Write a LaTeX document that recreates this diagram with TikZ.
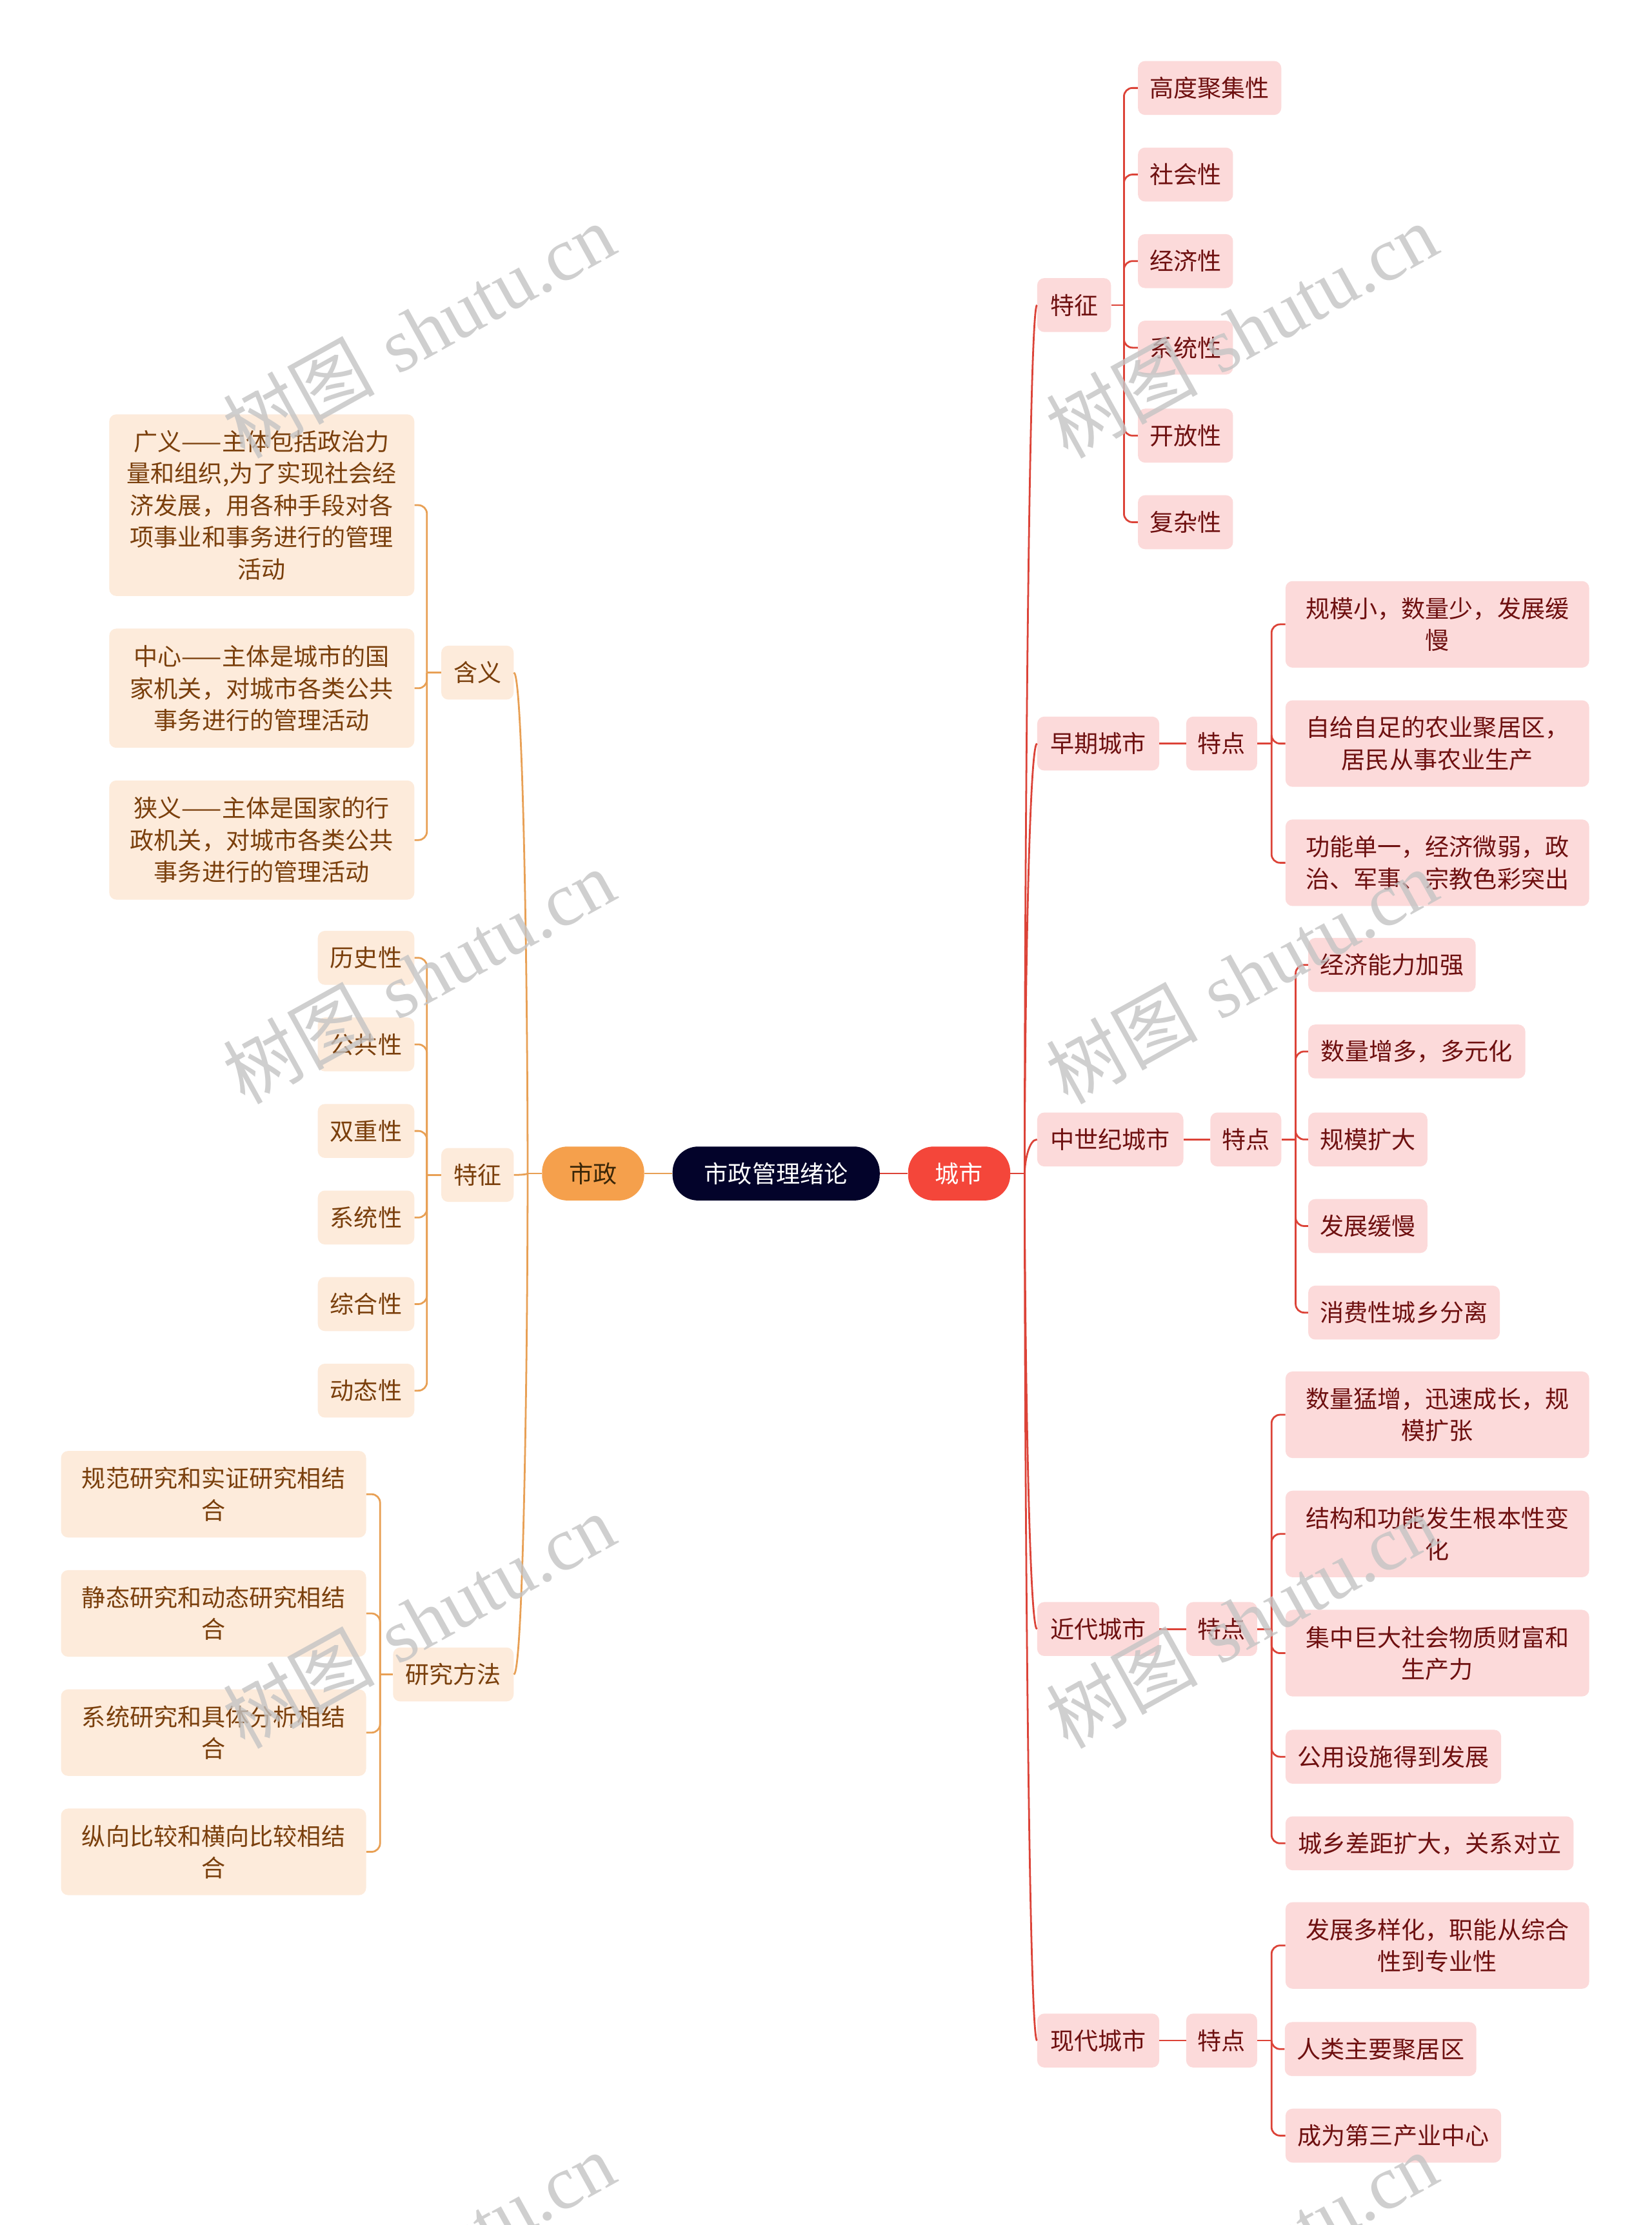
\documentclass[tikz,border=0pt]{standalone}
\usepackage{fontspec}
\newfontfamily\cjk{Noto Sans CJK SC}
\newfontfamily\wmserif{Liberation Serif}
\usetikzlibrary{calc}

\definecolor{rfill}{HTML}{FCDADA}
\definecolor{rtext}{HTML}{6E1010}
\definecolor{rline}{HTML}{DC4338}
\definecolor{lfill}{HTML}{FDEBDB}
\definecolor{ltext}{HTML}{7A3F0C}
\definecolor{lline}{HTML}{E8A055}
\definecolor{rootfill}{HTML}{03032A}
\definecolor{cityfill}{HTML}{F4463A}
\definecolor{szfill}{HTML}{F5A04C}
\definecolor{sztext}{HTML}{3A2608}
\definecolor{wm}{HTML}{C4C4C4}

\begin{document}
\begin{tikzpicture}[x=0.05cm,y=-0.05cm,
 every node/.style={font=\cjk\fontsize{24pt}{32pt}\selectfont, inner sep=0pt, align=center},
 sz/.style 2 args={minimum width=#1*0.05cm, minimum height=#2*0.05cm},
 rbox/.style={fill=rfill, text=rtext, rounded corners=0.25cm},
 lbox/.style={fill=lfill, text=ltext, rounded corners=0.25cm},
 pill/.style={rounded corners=0.9cm},
 rl/.style={draw=rline, line width=1.8pt, rounded corners=0.3cm},
 ll/.style={draw=lline, line width=1.8pt, rounded corners=0.3cm},
 wmk/.style={text=wm, opacity=0.8, rotate=29, font=\fontsize{76pt}{76pt}\selectfont},
]
\useasboundingbox (0,0) rectangle (1164,1568);
\clip (0,0) rectangle (1164,1568);
\fill[white] (0,0) rectangle (1164,1568);

% ---------- root level ----------
\node[pill, fill=rootfill, text=white, sz={146}{38}] (root) at (547,827) {市政管理绪论};
\node[pill, fill=cityfill, text=white, sz={72}{38}] (city) at (676,827) {城市};
\node[pill, fill=szfill, text=sztext, sz={72}{38}] (shz) at (418,827) {市政};

% ---------- right side ----------
\node[rbox, sz={52}{38}] (rtz) at (757,215) {特征};
\node[rbox, sz={101}{38}] (r1) at (852.5,62) {高度聚集性};
\node[rbox, sz={67}{38}] (r2) at (835.5,123) {社会性};
\node[rbox, sz={67}{38}] (r3) at (835.5,184) {经济性};
\node[rbox, sz={67}{38}] (r4) at (835.5,245) {系统性};
\node[rbox, sz={67}{38}] (r5) at (835.5,307) {开放性};
\node[rbox, sz={67}{38}] (r6) at (835.5,368) {复杂性};

\node[rbox, sz={86}{38}] (early) at (774,524) {早期城市};
\node[rbox, sz={50}{38}] (earlyF) at (861,524) {特点};
\node[rbox, sz={214}{61}] (e1) at (1013,440) {规模小，数量少，发展缓\\慢};
\node[rbox, sz={214}{61}] (e2) at (1013,524) {自给自足的农业聚居区，\\居民从事农业生产};
\node[rbox, sz={214}{61}] (e3) at (1013,608) {功能单一，经济微弱，政\\治、军事、宗教色彩突出};

\node[rbox, sz={103}{38}] (mid) at (782.5,803) {中世纪城市};
\node[rbox, sz={50}{38}] (midF) at (878,803) {特点};
\node[rbox, sz={118}{38}] (m1) at (981,680) {经济能力加强};
\node[rbox, sz={153}{38}] (m2) at (998.5,741) {数量增多，多元化};
\node[rbox, sz={84}{38}] (m3) at (964,803) {规模扩大};
\node[rbox, sz={84}{38}] (m4) at (964,864) {发展缓慢};
\node[rbox, sz={135}{38}] (m5) at (989.5,925) {消费性城乡分离};

\node[rbox, sz={86}{38}] (modern) at (774,1148) {近代城市};
\node[rbox, sz={50}{38}] (modernF) at (861,1148) {特点};
\node[rbox, sz={214}{61}] (n1) at (1013,997) {数量猛增，迅速成长，规\\模扩张};
\node[rbox, sz={214}{61}] (n2) at (1013,1081) {结构和功能发生根本性变\\化};
\node[rbox, sz={214}{61}] (n3) at (1013,1165) {集中巨大社会物质财富和\\生产力};
\node[rbox, sz={152}{38}] (n4) at (982,1238) {公用设施得到发展};
\node[rbox, sz={203}{38}] (n5) at (1007.5,1299) {城乡差距扩大，关系对立};

\node[rbox, sz={86}{38}] (contemp) at (774,1438) {现代城市};
\node[rbox, sz={50}{38}] (contempF) at (861,1438) {特点};
\node[rbox, sz={214}{61}] (c1) at (1013,1371) {发展多样化，职能从综合\\性到专业性};
\node[rbox, sz={135}{38}] (c2) at (973,1444) {人类主要聚居区};
\node[rbox, sz={152}{38}] (c3) at (982,1505) {成为第三产业中心};

% ---------- left side ----------
\node[lbox, sz={51}{38}] (hanyi) at (336.5,474) {含义};
\node[lbox, sz={215}{128}] (h1) at (184.5,356) {广义——主体包括政治力\\量和组织,为了实现社会经\\济发展，用各种手段对各\\项事业和事务进行的管理\\活动};
\node[lbox, sz={215}{84}] (h2) at (184.5,485) {中心——主体是城市的国\\家机关，对城市各类公共\\事务进行的管理活动};
\node[lbox, sz={215}{84}] (h3) at (184.5,592) {狭义——主体是国家的行\\政机关，对城市各类公共\\事务进行的管理活动};

\node[lbox, sz={51}{38}] (tzl) at (336.5,828) {特征};
\node[lbox, sz={68}{38}] (t1) at (258,675) {历史性};
\node[lbox, sz={68}{38}] (t2) at (258,736) {公共性};
\node[lbox, sz={68}{38}] (t3) at (258,797) {双重性};
\node[lbox, sz={68}{38}] (t4) at (258,858) {系统性};
\node[lbox, sz={68}{38}] (t5) at (258,919) {综合性};
\node[lbox, sz={68}{38}] (t6) at (258,980) {动态性};

\node[lbox, sz={85}{38}] (yjff) at (319.5,1180) {研究方法};
\node[lbox, sz={215}{61}] (y1) at (150.5,1053) {规范研究和实证研究相结\\合};
\node[lbox, sz={215}{61}] (y2) at (150.5,1137) {静态研究和动态研究相结\\合};
\node[lbox, sz={215}{61}] (y3) at (150.5,1221) {系统研究和具体分析相结\\合};
\node[lbox, sz={215}{61}] (y4) at (150.5,1305) {纵向比较和横向比较相结\\合};

% ---------- connectors ----------
\draw[rl] (root.east) -- (city.west);
\draw[ll] (root.west) -- (shz.east);

% city main branches
\draw[rl] (city.east) -- ++(10,0) coordinate (cityT);
\foreach \c in {rtz,early,mid,modern,contemp}
  \draw[rl] (cityT) .. controls ($(cityT)!0.35!(cityT |- \c.west)$) and ($(cityT |- \c.west)+(3,0)$) .. (\c.west);

% shizheng main branches
\draw[ll] (shz.west) -- ++(-10,0) coordinate (shzT);
\foreach \c in {hanyi,tzl,yjff}
  \draw[ll] (shzT) .. controls ($(shzT)!0.35!(shzT |- \c.east)$) and ($(shzT |- \c.east)+(-3,0)$) .. (\c.east);

% right 特征
\draw[rl] (rtz.east) -- ++(9,0) coordinate (rtzT);
\foreach \c in {r1,r2,r3,r4,r5,r6} \draw[rl] (rtzT) |- (\c.west);

% 早期城市
\draw[rl] (early.east) -- (earlyF.west);
\draw[rl] (earlyF.east) -- ++(10,0) coordinate (earlyT);
\foreach \c in {e1,e2,e3} \draw[rl] (earlyT) |- (\c.west);

% 中世纪城市
\draw[rl] (mid.east) -- (midF.west);
\draw[rl] (midF.east) -- ++(10,0) coordinate (midT);
\foreach \c in {m1,m2,m3,m4,m5} \draw[rl] (midT) |- (\c.west);

% 近代城市
\draw[rl] (modern.east) -- (modernF.west);
\draw[rl] (modernF.east) -- ++(10,0) coordinate (modernT);
\foreach \c in {n1,n2,n3,n4,n5} \draw[rl] (modernT) |- (\c.west);

% 现代城市
\draw[rl] (contemp.east) -- (contempF.west);
\draw[rl] (contempF.east) -- ++(10,0) coordinate (contempT);
\foreach \c in {c1,c2,c3} \draw[rl] (contempT) |- (\c.west);

% left 含义
\draw[ll] (hanyi.west) -- ++(-10,0) coordinate (hanyiT);
\foreach \c in {h1,h2,h3} \draw[ll] (hanyiT) |- (\c.east);

% left 特征
\draw[ll] (tzl.west) -- ++(-10,0) coordinate (tzlT);
\foreach \c in {t1,t2,t3,t4,t5,t6} \draw[ll] (tzlT) |- (\c.east);

% 研究方法
\draw[ll] (yjff.west) -- ++(-9,0) coordinate (yjffT);
\foreach \c in {y1,y2,y3,y4} \draw[ll] (yjffT) |- (\c.east);

% ---------- watermarks ----------
\foreach \p [count=\i] in {(295,233),(295,688),(295,1142),(875,233),(875,688),(875,1142),(295,1592),(875,1592)}
  \node[wmk] (wm\i) at \p {{\cjk 树图} {\wmserif shutu.cn}};
\end{tikzpicture}
\end{document}
